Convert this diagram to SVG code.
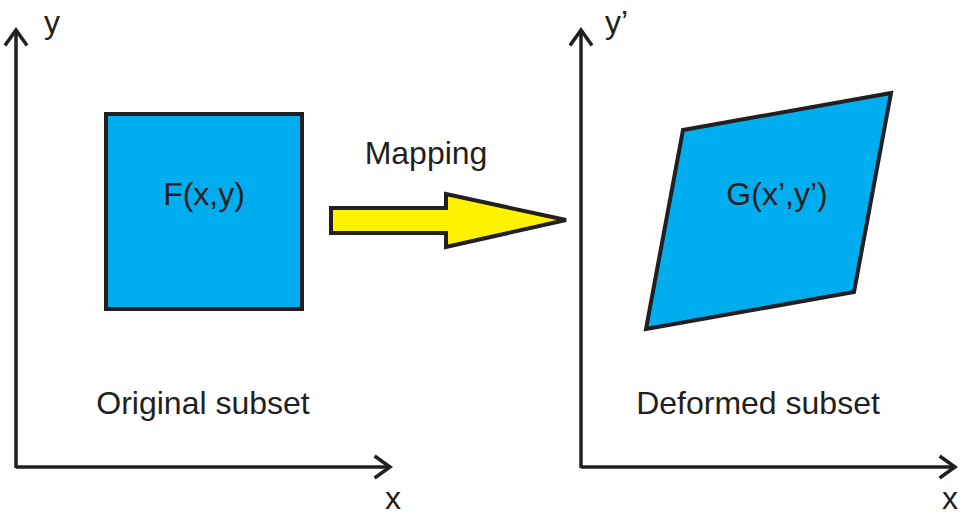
<svg xmlns="http://www.w3.org/2000/svg" width="965" height="515" viewBox="0 0 965 515">
<style>
.ax{stroke:#231f20;stroke-width:3.5;fill:none}
.hd{stroke:#231f20;stroke-width:3.5;fill:none;stroke-linecap:square}
.t{font-family:"Liberation Sans",Arial,sans-serif;font-size:32px;fill:#231f20}
.shape{fill:#00aeef;stroke:#231f20;stroke-width:4;stroke-linejoin:miter}
</style>
<rect width="965" height="515" fill="#fff"/>
<g id="connectors">
<line class="ax" x1="16" y1="32" x2="16" y2="468"/>
<polyline class="hd" points="6,44 16,30 26,44"/>
<line class="ax" x1="16" y1="467" x2="388" y2="467"/>
<polyline class="hd" points="376,457 390,467 376,477"/>
<line class="ax" x1="581" y1="32" x2="581" y2="468"/>
<polyline class="hd" points="571,44 581,30 591,44"/>
<line class="ax" x1="581" y1="467" x2="953" y2="467"/>
<polyline class="hd" points="941,457 955,467 941,477"/>
</g>
<g id="original">
<rect class="shape" x="106" y="114" width="196" height="195"/>
<text class="t" x="204" y="205" text-anchor="middle">F(x,y)</text>
</g>
<g id="deformed">
<polygon class="shape" points="683,130 891,93 854,292 646,329"/>
<text class="t" x="777" y="205" text-anchor="middle">G(x’,y’)</text>
</g>
<g id="mapping">
<polygon points="331,208 446,208 446,194 566,220 446,247 446,233 331,233" fill="#fff200" stroke="#231f20" stroke-width="4"/>
<text class="t" x="426" y="164" text-anchor="middle">Mapping</text>
</g>
<g id="labels">
<text class="t" x="44" y="33">y</text>
<text class="t" x="605" y="33">y’</text>
<text class="t" x="385" y="509">x</text>
<text class="t" x="942" y="509">x</text>
<text class="t" x="203" y="414" text-anchor="middle">Original subset</text>
<text class="t" x="758" y="414" text-anchor="middle">Deformed subset</text>
</g>
</svg>
